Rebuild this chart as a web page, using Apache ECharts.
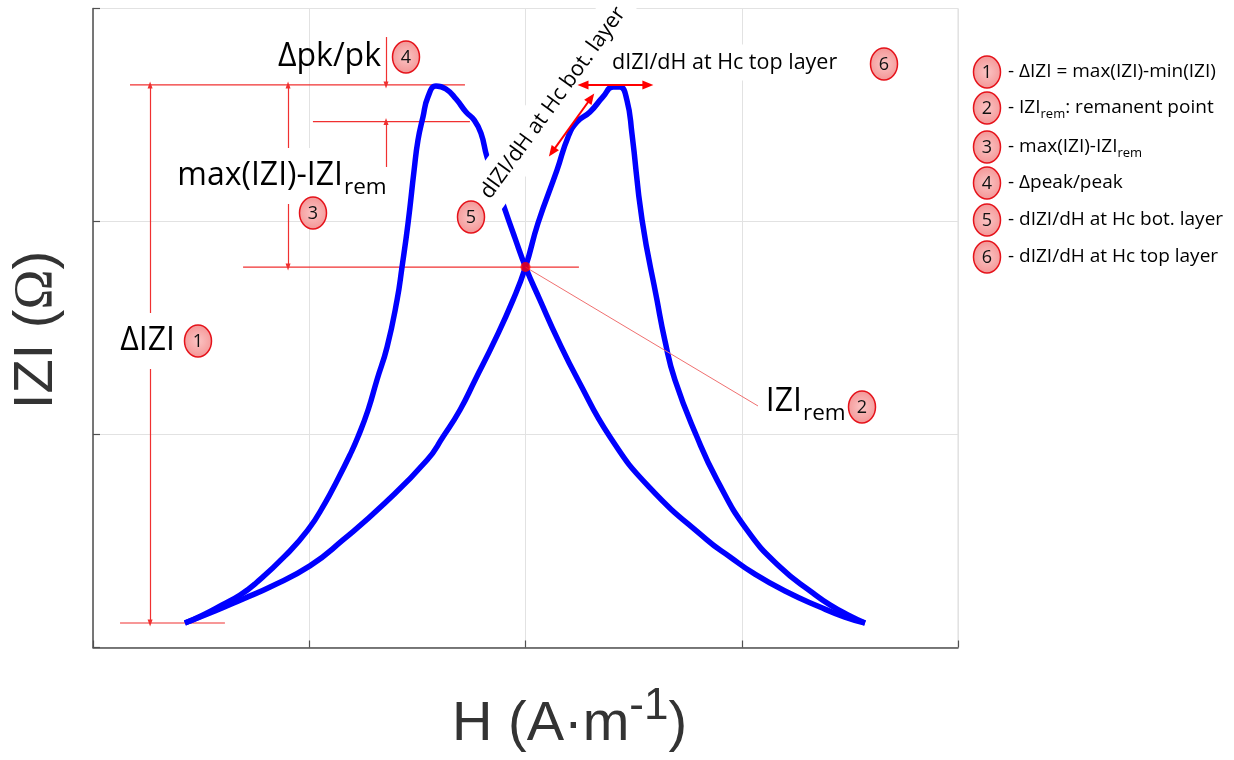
<!DOCTYPE html>
<html><head><meta charset="utf-8">
<script src="https://cdn.jsdelivr.net/npm/echarts@6/dist/echarts.min.js"></script>
<style>html,body{margin:0;padding:0;background:#fff}#c{width:1234px;height:760px}</style>
</head><body><div id="c"></div>
<script>
// ---- data (H and |Z| in arbitrary units; the reference has no tick labels) ----
const curveA_H = [-1.575,-1.491,-1.403,-1.320,-1.246,-1.112,-1.006,-0.927,-0.872,-0.812,-0.775,-0.728,-0.687,-0.640,-0.594,-0.571,-0.543,-0.515,-0.497,-0.474,-0.451,-0.414,-0.368,-0.321,-0.275,-0.238,-0.206,-0.178,-0.136,-0.099,-0.049,0.000,0.067,0.150,0.243,0.391,0.571,0.839,0.946,1.052,1.200,1.362,1.477,1.570];
const curveA_Z = [0.115,0.153,0.200,0.246,0.303,0.430,0.552,0.678,0.782,0.904,0.988,1.115,1.256,1.411,1.631,1.786,1.993,2.242,2.383,2.491,2.585,2.636,2.622,2.575,2.514,2.477,2.415,2.303,2.181,2.068,1.923,1.786,1.631,1.444,1.256,0.988,0.754,0.505,0.425,0.350,0.265,0.190,0.143,0.115];
const curveB_H = [-1.575,-1.436,-1.306,-1.181,-0.997,-0.844,-0.650,-0.455,-0.382,-0.303,-0.233,-0.141,-0.058,0.000,0.058,0.146,0.197,0.238,0.298,0.358,0.405,0.437,0.469,0.492,0.539,0.608,0.644,0.691,0.793,0.886,1.024,1.177,1.329,1.408,1.491,1.570];
const curveB_Z = [0.115,0.171,0.228,0.284,0.383,0.505,0.678,0.880,0.988,1.115,1.256,1.444,1.631,1.786,1.993,2.242,2.397,2.467,2.514,2.585,2.631,2.631,2.570,2.415,2.007,1.631,1.444,1.256,0.988,0.786,0.552,0.378,0.256,0.200,0.153,0.115];
const remPoint = [0.000, 1.786];
const levels = { peak: 2.641, shoulder: 2.469, rem: 1.786, min: 0.115 };
// horizontal reference lines: [level name, H start, H end]
const refLines = [['peak', -1.829, -0.280], ['shoulder', -0.983, -0.257], ['rem', -1.306, 0.247], ['min', -1.875, -1.390]];
const legendItems = [
  '{n|- ΔIZI = max(IZI)-min(IZI)}',
  '{n|- IZI}{s|rem}{n|: remanent point}',
  '{n|- max(IZI)-IZI}{s|rem}',
  '{n|- Δpeak/peak}',
  '{n|- dIZI/dH at Hc bot. layer}',
  '{n|- dIZI/dH at Hc top layer}'
];

const zip = (a, b) => a.map((v, i) => [v, b[i]]);
const chart = echarts.init(document.getElementById('c'));

const RED_THIN = '#f03030';
function thinStyle() { return { color: RED_THIN, width: 1.2, type: 'solid' }; }
function seg(p1, p2, s1, s2, style) {
  return [
    { coord: p1, symbol: s1 || 'none', lineStyle: style || thinStyle(), itemStyle: { color: RED_THIN } },
    { coord: p2, symbol: s2 || 'none' }
  ];
}
const thinLines = [
  seg([-1.736, levels.peak], [-1.736, levels.min], 'triangle', 'triangle'),
  seg([-1.098, levels.peak], [-1.098, levels.rem], 'triangle', 'triangle'),
  seg([-0.645, 2.866], [-0.645, levels.peak], 'none', 'triangle'),
  seg([-0.645, levels.shoulder], [-0.645, 2.256], 'triangle', 'none'),
  seg(remPoint, [1.075, 1.134], 'none', 'none', { color: '#f07070', width: 1, type: 'solid' })
];
const thickStyle = () => ({ color: '#ff0000', width: 2, type: 'solid' });
const thickLines = [
  seg([0.266, 2.641], [0.566, 2.641], 'triangle', 'triangle', thickStyle()),
  seg([0.123, 2.326], [0.303, 2.580], 'triangle', 'triangle', thickStyle())
];

const OS = '"Open Sans", sans-serif';
const pinkFill = new echarts.graphic.RadialGradient(0.5, 0.5, 0.6, [
  { offset: 0, color: '#fbc4c4' }, { offset: 1, color: '#f39494' }
]);
function badge(cx, cy, n) {
  return [
    { type: 'ellipse', z: 100, shape: { cx: cx, cy: cy, rx: 13.5, ry: 16 },
      style: { fill: pinkFill, stroke: '#e5121a', lineWidth: 1.5 } },
    { type: 'text', z: 101, x: cx, y: cy + 0.5,
      style: { text: String(n), fontSize: 18, fontFamily: OS, fill: '#111', align: 'center', verticalAlign: 'middle' } }
  ];
}
function txt(x, y, text, size, align, extra, z) {
  return { type: 'text', z: z || 100, x: x, y: y,
    style: Object.assign({ text: text, fontSize: size, fontFamily: OS, fill: '#000',
      align: align || 'left', verticalAlign: 'middle' }, extra || {}) };
}

const graphics = [];
graphics.push(txt(381, 57, 'Δpk/pk', 32, 'right'));
graphics.push(txt(343, 176, 'max(IZI)-IZI', 32, 'right', { backgroundColor: '#fff', padding: [12, 0] }));
graphics.push(txt(344, 188, 'rem', 22.5, 'left'));
graphics.push(txt(178, 341, 'ΔIZI', 32, 'right', { backgroundColor: '#fff', padding: [12, 3] }));
graphics.push(txt(802, 402, 'IZI', 32, 'right'));
graphics.push(txt(803, 414, 'rem', 22.5, 'left'));
graphics.push(txt(608, 62.5, 'dIZI/dH at Hc top layer', 21.5, 'left', { backgroundColor: '#fff', padding: [10, 4, 4, 4] }, 4));
graphics.push({ type: 'text', z: 4, x: 553, y: 103, rotation: 54 * Math.PI / 180,
  style: { text: 'dIZI/dH at Hc bot. layer', fontSize: 21.5, fontFamily: OS, fill: '#000',
    align: 'center', verticalAlign: 'middle', backgroundColor: '#fff', padding: [10, 10] } });
[[198, 341, 1], [862, 407, 2], [313, 213, 3], [406, 57, 4], [471, 217, 5], [884, 64, 6]]
  .forEach(b => graphics.push(...badge(b[0], b[1], b[2])));
const legendY = [72, 108, 147, 183, 220, 257];
legendItems.forEach((t, i) => {
  graphics.push(...badge(987, legendY[i], i + 1));
  graphics.push({ type: 'text', z: 100, x: 1008, y: legendY[i],
    style: { text: t, align: 'left', verticalAlign: 'middle',
      rich: { n: { fontSize: 19, fontFamily: OS, fill: '#000', lineHeight: 26, verticalAlign: 'middle' },
              s: { fontSize: 13, fontFamily: OS, fill: '#000', verticalAlign: 'bottom' } } } });
});
graphics.push({ type: 'text', z: 100, x: 452, y: 725,
  style: { text: '{a|H (A·m}{b|-1}{a|)}', align: 'left', verticalAlign: 'middle',
    rich: { a: { fontSize: 56, fontFamily: '"Liberation Sans", Arial', fill: '#333', lineHeight: 80, verticalAlign: 'middle' },
            b: { fontSize: 44, fontFamily: '"Liberation Sans", Arial', fill: '#333', verticalAlign: 'top' } } } });
graphics.push({ type: 'text', z: 100, x: 37, y: 330, rotation: Math.PI / 2,
  style: { text: '{a|IZI (}{o|Ω}{a|)}', align: 'center', verticalAlign: 'middle',
    rich: { a: { fontSize: 56, fontFamily: '"Liberation Sans", Arial', fill: '#333' },
            o: { fontSize: 54, fontFamily: '"Liberation Serif", serif', fill: '#333' } } } });

const axisCommon = {
  type: 'value', interval: 1,
  axisLine: { show: true, onZero: false, lineStyle: { color: '#505050', width: 1.5 } },
  axisTick: { show: true, inside: true, length: 7, lineStyle: { color: '#505050', width: 1.2 } },
  axisLabel: { show: false },
  splitLine: { show: true, lineStyle: { color: '#e2e2e2', width: 1 } }
};

const refSeries = refLines.map(r => ({
  name: 'ref ' + r[0], type: 'line', data: [[r[1], levels[r[0]]], [r[2], levels[r[0]]]],
  showSymbol: false, symbol: 'none', silent: true, z: 2,
  lineStyle: { color: RED_THIN, width: 1.2, type: 'solid' }, itemStyle: { color: RED_THIN }
}));

const curveStyle = { showSymbol: false, smooth: 0.5, silent: true, z: 3,
  lineStyle: { color: '#0000ff', width: 5.5 }, itemStyle: { color: '#0000ff' } };

chart.setOption({
  animation: false,
  backgroundColor: '#fff',
  grid: { left: 93, right: 276, top: 8.5, bottom: 112.5, show: true, borderColor: '#dddddd', borderWidth: 1, backgroundColor: 'transparent' },
  xAxis: Object.assign({}, axisCommon, { min: -2, max: 2 }),
  yAxis: Object.assign({}, axisCommon, { min: 0, max: 3 }),
  series: refSeries.concat([
    Object.assign({ name: 'branch A', type: 'line', data: zip(curveA_H, curveA_Z),
      markLine: { silent: true, symbolSize: [5, 7], label: { show: false }, lineStyle: thinStyle(),
        itemStyle: { color: RED_THIN }, emphasis: { disabled: true }, data: thinLines } }, curveStyle),
    Object.assign({ name: 'branch B', type: 'line', data: zip(curveB_H, curveB_Z) }, curveStyle),
    { name: 'remanent point', type: 'scatter', data: [remPoint], symbolSize: 10, z: 8, silent: true,
      itemStyle: { color: '#ff0000' },
      markLine: { silent: true, symbolSize: [9, 11], label: { show: false }, lineStyle: thickStyle(),
        itemStyle: { color: '#ff0000' }, emphasis: { disabled: true }, data: thickLines } }
  ]),
  graphic: { elements: graphics }
});
</script></body></html>
